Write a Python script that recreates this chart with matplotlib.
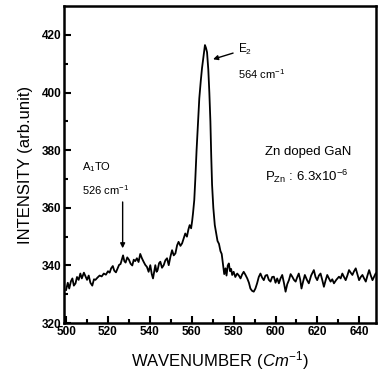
import matplotlib
matplotlib.use("Agg")
import matplotlib.pyplot as plt

plt.rcParams['font.family'] = ['Liberation Sans', 'DejaVu Sans']
plt.rcParams['mathtext.fontset'] = 'custom'
plt.rcParams['mathtext.rm'] = 'Liberation Sans'
plt.rcParams['mathtext.it'] = 'Liberation Sans:italic'
plt.rcParams['mathtext.bf'] = 'Liberation Sans:bold'

wavenumber = [
    500.0, 500.8, 501.5, 502.3, 503.0, 503.7, 504.5, 505.2, 506.0, 506.8, 507.5, 508.5,
    509.3, 510.0, 510.8, 511.6, 512.5, 513.3, 514.0, 515.0, 516.0, 517.0, 518.0, 519.0,
    520.0, 520.8, 521.5, 522.3, 523.0, 523.8, 524.6, 525.3, 526.0, 526.6, 527.2, 527.8,
    528.4, 529.2, 530.0, 530.8, 531.6, 532.3, 533.0, 533.8, 534.6, 535.4, 536.2, 537.0,
    537.8, 538.6, 539.4, 540.2, 540.9, 541.5, 542.0, 542.6, 543.2, 543.7, 544.4, 545.0,
    545.8, 546.6, 547.4, 548.2, 549.0, 549.8, 550.6, 551.4, 552.2, 553.0, 553.7, 554.6,
    555.4, 556.2, 556.9, 557.7, 558.4, 559.0, 559.7, 560.2, 560.6, 561.2, 561.7, 562.3,
    563.0, 563.6, 564.3, 564.9, 565.6, 566.3, 566.8, 567.3, 567.9, 568.4, 568.9, 569.3,
    569.7, 570.3, 571.0, 571.6, 572.3, 573.0, 573.7, 574.3, 575.0, 575.5, 576.1, 576.6,
    577.2, 577.7, 578.3, 578.8, 579.3, 580.0, 580.8, 581.7, 582.5, 583.3, 584.0, 584.8,
    585.6, 586.5, 587.3, 588.0, 588.8, 589.6, 590.4, 591.2, 592.0, 592.8, 593.6, 594.4,
    595.2, 596.0, 596.8, 597.6, 598.4, 599.2, 600.0, 600.8, 601.6, 602.4, 603.2, 604.0,
    604.8, 605.6, 606.4, 607.2, 608.0, 608.8, 609.6, 610.4, 611.1, 611.8, 612.4, 613.2,
    614.0, 615.0, 615.9, 617.0, 618.3, 619.1, 619.9, 620.7, 621.5, 622.3, 623.1, 623.9,
    624.7, 625.5, 626.3, 627.1, 627.9, 629.0, 630.3, 631.1, 631.9, 632.7, 633.5, 634.3,
    635.1, 635.9, 636.7, 637.5, 638.3, 639.1, 639.9, 640.7, 641.5, 642.3, 643.1, 643.9,
    644.7, 645.5, 646.3, 647.0, 647.8]
intensity = [
    331.5, 334.0, 332.0, 334.5, 335.5, 333.0, 333.8, 336.0, 335.0, 337.2, 335.5, 337.5,
    336.2, 335.0, 336.5, 334.0, 333.0, 335.2, 335.0, 335.8, 336.5, 336.2, 337.2, 336.8,
    338.0, 337.5, 339.0, 339.8, 338.2, 337.6, 339.0, 340.2, 340.5, 342.0, 343.5, 341.5,
    341.0, 342.8, 342.0, 340.6, 340.0, 342.0, 341.5, 342.5, 341.2, 344.0, 342.5, 341.3,
    340.2, 339.5, 337.8, 340.1, 337.0, 335.5, 337.5, 340.1, 337.8, 338.4, 340.8, 341.3,
    339.2, 340.1, 341.8, 342.5, 340.1, 343.0, 345.3, 343.5, 344.2, 347.0, 348.2, 346.8,
    347.7, 349.5, 351.1, 350.0, 352.5, 354.0, 352.9, 355.5, 358.1, 362.7, 370.0, 380.0,
    390.0, 398.0, 404.0, 408.5, 412.5, 416.5, 415.5, 414.0, 408.0, 400.0, 390.0, 378.0,
    368.0, 360.0, 354.0, 351.5, 348.5, 347.5, 345.0, 344.0, 340.0, 337.0, 339.0, 336.5,
    340.0, 340.7, 338.0, 338.8, 336.7, 337.8, 336.0, 337.2, 336.5, 335.5, 336.8, 337.8,
    336.8, 335.5, 334.0, 332.0, 331.2, 330.9, 332.0, 333.8, 336.0, 337.2, 335.8, 334.9,
    336.5, 336.7, 335.0, 334.4, 336.0, 336.1, 334.0, 335.5, 333.8, 335.5, 336.7, 334.0,
    330.9, 333.5, 334.9, 337.0, 336.1, 335.0, 334.4, 336.0, 337.2, 335.0, 332.0, 334.5,
    336.7, 335.0, 333.8, 336.5, 338.4, 336.0, 334.9, 336.5, 337.2, 335.0, 332.6, 334.8,
    336.7, 335.5, 334.4, 335.2, 333.8, 335.0, 336.1, 335.5, 337.2, 336.0, 334.9, 336.5,
    338.4, 337.5, 336.7, 338.0, 339.0, 337.0, 334.9, 336.0, 336.7, 335.5, 334.4, 336.5,
    338.4, 336.5, 334.9, 336.0, 337.2]

x_ticks = [500, 520, 540, 560, 580, 600, 620, 640]
y_ticks = [320, 340, 360, 380, 400, 420]

fig = plt.figure(figsize=(3.81, 3.86), dpi=100)
ax = fig.add_axes([0.168, 0.163, 0.819, 0.821])
ax.plot(wavenumber, intensity, color='black', lw=1.3)

ax.set_xlim(499, 648)
ax.set_ylim(320, 430)
ax.set_xticks(x_ticks)
ax.set_yticks(y_ticks)
ax.set_xticks(range(510, 648, 20), minor=True)
ax.set_yticks(range(330, 430, 20), minor=True)
ax.tick_params(which='both', direction='in', width=1.5)
ax.tick_params(which='major', length=5, labelsize=8.5, pad=2)
ax.tick_params(which='minor', length=3)
for lab in ax.get_xticklabels() + ax.get_yticklabels():
    lab.set_fontweight('bold')
for s in ax.spines.values():
    s.set_linewidth(1.8)

ax.set_xlabel('WAVENUMBER ($Cm^{-1}$)', fontsize=12, labelpad=8)
ax.set_ylabel('INTENSITY (arb.unit)', fontsize=12, labelpad=6)

# annotations
ax.annotate('', xy=(527, 345), xytext=(527, 363),
            arrowprops=dict(arrowstyle='-|>', color='black', lw=1.0, mutation_scale=7))
ax.text(507.5, 374, 'A$_1$TO', fontsize=8, ha='left', va='center')
ax.text(507.5, 366, '526 cm$^{-1}$', fontsize=8, ha='left', va='center')

ax.annotate('', xy=(568.9, 411.3), xytext=(581, 414),
            arrowprops=dict(arrowstyle='-|>', color='black', lw=1.0, mutation_scale=7))
ax.text(582, 415, 'E$_2$', fontsize=8.5, ha='left', va='center')
ax.text(582, 406.5, '564 cm$^{-1}$', fontsize=8, ha='left', va='center')

ax.text(595, 379.5, 'Zn doped GaN', fontsize=9.5, ha='left', va='center')
ax.text(595, 371, 'P$_{\\mathrm{Zn}}$ : 6.3x10$^{-6}$', fontsize=9.5, ha='left', va='center')

fig.savefig('out.png', dpi=100)
